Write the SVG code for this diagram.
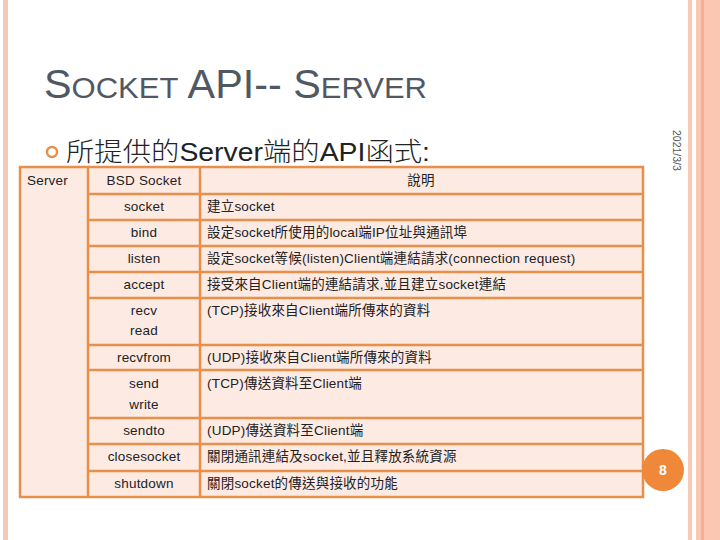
<svg xmlns="http://www.w3.org/2000/svg" width="720" height="540" viewBox="0 0 720 540">
<style>
.t{font-family:"Liberation Sans","Noto Sans CJK TC",sans-serif;font-size:13.5px;fill:#222;letter-spacing:0.2px}
.c{text-anchor:middle}
.g{stroke:#e8904a;stroke-width:2.5;fill:none}
</style>
<rect width="720" height="540" fill="#fff"/>
<rect x="3" y="0" width="5" height="540" fill="#f8c8b4"/>
<rect x="688" y="0" width="4" height="540" fill="#f8c8b4"/>
<rect x="696" y="0" width="24" height="540" fill="#fbc7b2"/>
<rect x="701" y="0" width="3" height="540" fill="#f4b094"/>
<g id="title">
<text x="44" y="98" font-family="Liberation Sans,sans-serif" fill="#505863" font-size="40" textLength="383" lengthAdjust="spacingAndGlyphs">S<tspan font-size="30">OCKET</tspan> API-- S<tspan font-size="30">ERVER</tspan></text>
</g>
<g id="subtitle">
<circle cx="52" cy="152" r="5" fill="none" stroke="#e8904a" stroke-width="2.5"/>
<text x="66" y="161" font-family="Liberation Sans,Noto Sans CJK TC,sans-serif" font-size="26" font-weight="300" fill="#222" textLength="364" lengthAdjust="spacingAndGlyphs">所提供的Server端的API函式:</text>
</g>
<text transform="translate(673,130) rotate(90)" font-family="Liberation Sans,sans-serif" font-size="10.5" fill="#555">2021/3/3</text>
<g id="table">
<rect x="20" y="167" width="623" height="330" fill="#fdeae2"/>
<g class="g">
<rect x="20" y="167" width="623" height="330"/>
<path d="M88 167V497M200 167V497M88 194H643M88 220H643M88 246H643M88 272H643M88 298H643M88 345H643M88 370H643M88 418H643M88 444H643M88 471H643"/>
</g>
<text class="t" x="27" y="185">Server</text>
<text class="t c" x="144" y="185">BSD Socket</text>
<text class="t c" x="421" y="185">說明</text>
<text class="t c" x="144" y="211">socket</text>
<text class="t c" x="144" y="237">bind</text>
<text class="t c" x="144" y="263">listen</text>
<text class="t c" x="144" y="289">accept</text>
<text class="t c" x="144" y="315">recv</text>
<text class="t c" x="144" y="335">read</text>
<text class="t c" x="144" y="362">recvfrom</text>
<text class="t c" x="144" y="388">send</text>
<text class="t c" x="144" y="409">write</text>
<text class="t c" x="144" y="435">sendto</text>
<text class="t c" x="144" y="461">closesocket</text>
<text class="t c" x="144" y="488">shutdown</text>
<text class="t" x="207" y="211">建立socket</text>
<text class="t" x="207" y="237">設定socket所使用的local端IP位址與通訊埠</text>
<text class="t" x="207" y="263">設定socket等候(listen)Client端連結請求(connection request)</text>
<text class="t" x="207" y="289">接受來自Client端的連結請求,並且建立socket連結</text>
<text class="t" x="207" y="315">(TCP)接收來自Client端所傳來的資料</text>
<text class="t" x="207" y="362">(UDP)接收來自Client端所傳來的資料</text>
<text class="t" x="207" y="388">(TCP)傳送資料至Client端</text>
<text class="t" x="207" y="435">(UDP)傳送資料至Client端</text>
<text class="t" x="207" y="461">關閉通訊連結及socket,並且釋放系統資源</text>
<text class="t" x="207" y="488">關閉socket的傳送與接收的功能</text>
</g>
<g id="page">
<circle cx="663" cy="470" r="21" fill="#f0883a"/>
<text x="663" y="475" text-anchor="middle" font-family="Liberation Sans,sans-serif" font-size="14" font-weight="bold" fill="#fff">8</text>
</g>
</svg>
